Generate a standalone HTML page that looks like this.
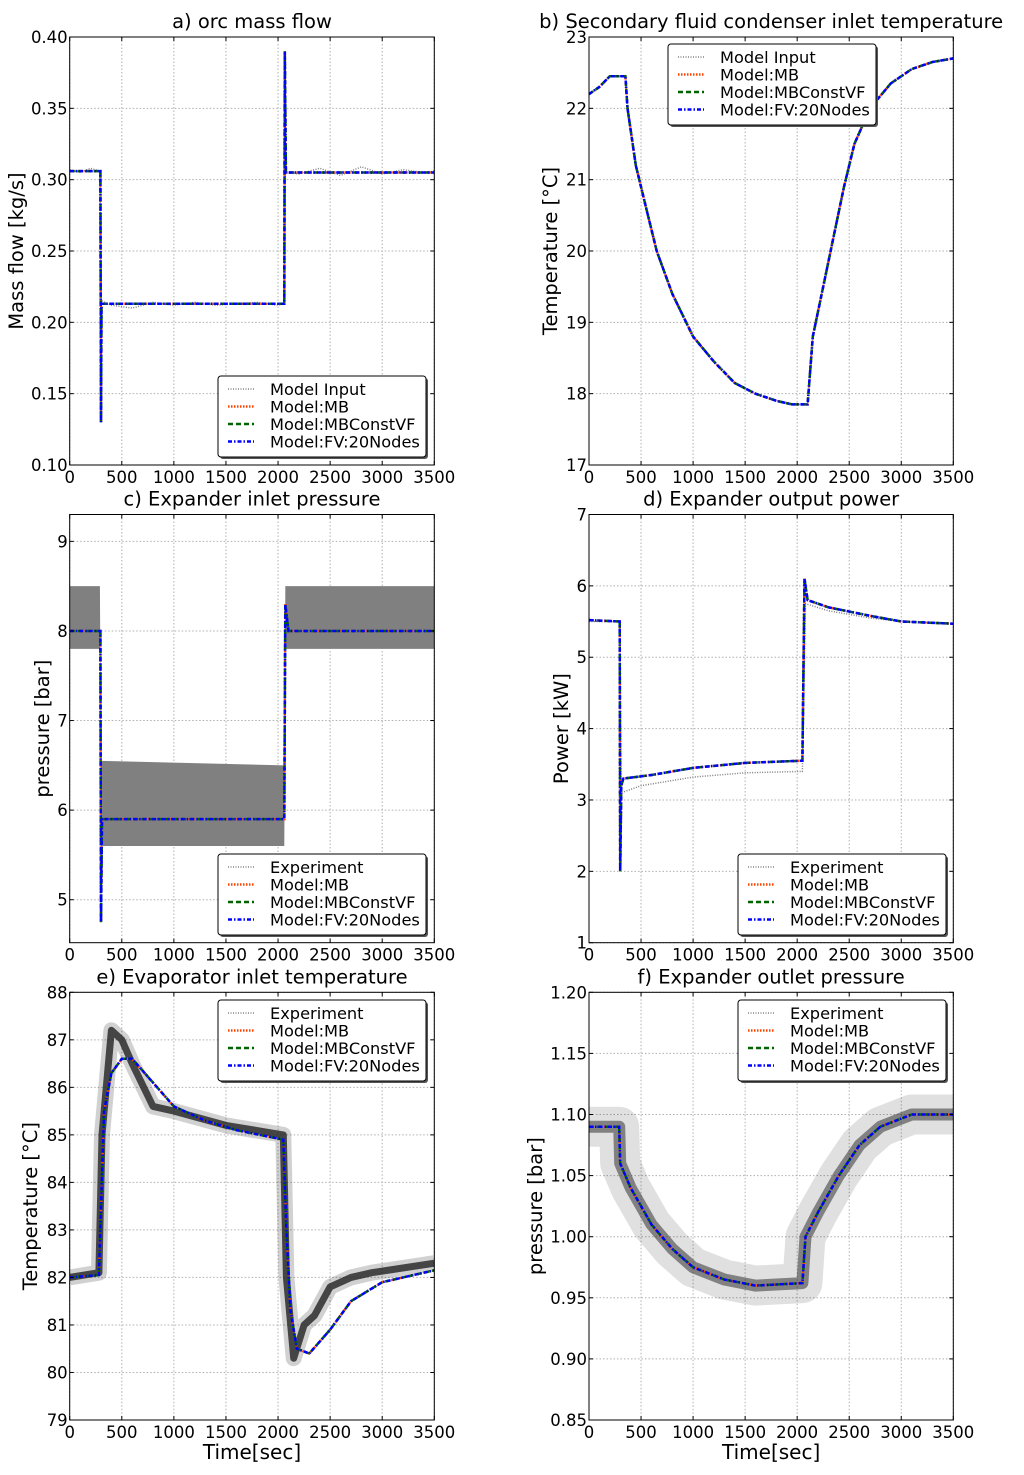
<!DOCTYPE html>
<html><head><meta charset="utf-8">
<style>
body{margin:0;background:#fff;width:1024px;height:1475px;overflow:hidden;font-family:"DejaVu Sans","Liberation Sans",sans-serif}
svg{display:block}
</style></head>
<body>
<svg id="fig" width="1024" height="1475" xmlns="http://www.w3.org/2000/svg" font-family="DejaVu Sans, Liberation Sans, sans-serif"></svg>
<script>
// ---- data ----
const xTicks=[0,500,1000,1500,2000,2500,3000,3500];
const aTicks=[0.10,0.15,0.20,0.25,0.30,0.35,0.40];
const aT=[0,295,300,305,2060,2065,2075,3500];
const aV=[0.306,0.306,0.13,0.213,0.213,0.39,0.305,0.305];
const aInT=[0,100,200,290,300,310,400,600,800,1000,1200,1400,1600,1800,2000,2060,2070,2200,2400,2600,2800,3000,3200,3400,3500];
const aInV=[0.307,0.305,0.308,0.306,0.213,0.215,0.212,0.210,0.214,0.212,0.214,0.212,0.213,0.214,0.212,0.213,0.305,0.304,0.308,0.303,0.309,0.304,0.307,0.305,0.306];
const bTicks=[17,18,19,20,21,22,23];
const bT=[0,100,200,350,370,450,550,650,800,1000,1200,1400,1600,1800,1950,2100,2150,2250,2350,2450,2550,2700,2900,3100,3300,3500];
const bV=[22.2,22.3,22.45,22.45,22.0,21.2,20.6,20.0,19.4,18.8,18.45,18.15,18.0,17.9,17.85,17.85,18.8,19.5,20.2,20.9,21.5,22.0,22.35,22.55,22.65,22.7];
const cTicks=[5,6,7,8,9];
const cT=[0,295,300,310,2060,2070,2100,3500];
const cV=[8,8,4.75,5.9,5.9,8.3,8.0,8.0];
const cExT=[0,290,300,2060,2070,3500];
const cExLo=[7.8,7.8,5.6,5.6,7.8,7.8];
const cExHi=[8.5,8.5,6.55,6.5,8.5,8.5];
const dTicks=[1,2,3,4,5,6,7];
const dT=[0,295,300,310,330,600,1000,1500,2050,2070,2100,2300,2700,3000,3500];
const dV=[5.52,5.5,2.0,3.2,3.3,3.35,3.45,3.52,3.55,6.1,5.8,5.7,5.58,5.5,5.47];
const dExT=[0,295,310,500,1000,1500,2050,2080,2300,2700,3000,3500];
const dExV=[5.5,5.5,3.1,3.2,3.32,3.38,3.4,5.75,5.65,5.55,5.5,5.47];
const eTicks=[79,80,81,82,83,84,85,86,87,88];
const eT=[0,280,300,330,400,500,600,800,1000,1300,1600,2050,2080,2120,2180,2300,2500,2700,3000,3500];
const eV=[82,82.05,83.5,85.5,86.3,86.6,86.6,86.1,85.6,85.3,85.1,84.9,83,81.3,80.5,80.4,80.9,81.5,81.9,82.15];
const eExT=[0,280,310,400,500,600,800,1000,1500,2050,2080,2150,2250,2350,2500,2700,2900,3500];
const eExV=[82,82.1,85,87.2,87,86.5,85.6,85.5,85.2,85,82,80.3,81,81.2,81.8,82.0,82.1,82.3];
const fTicks=[0.85,0.90,0.95,1.00,1.05,1.10,1.15,1.20];
const fT=[0,290,300,400,600,800,1000,1300,1600,2050,2080,2200,2400,2600,2800,3100,3500];
const fV=[1.09,1.09,1.06,1.04,1.01,0.99,0.975,0.965,0.96,0.962,1.0,1.02,1.05,1.075,1.09,1.1,1.1];

const NS='http://www.w3.org/2000/svg';
const svg=document.getElementById('fig');
function mk(tag,attrs,parent){const e=document.createElementNS(NS,tag);for(const k in attrs)e.setAttribute(k,attrs[k]);(parent||svg).appendChild(e);return e;}

function panel(o){
  const g=mk('g',{});
  
  
  const X=t=>o.x0+(t-0)/3500*(o.x1-o.x0);
  const Y=v=>o.y1-(v-o.ymin)/(o.ymax-o.ymin)*(o.y1-o.y0);
  xTicks.forEach(t=>{const l=mk('line',{x1:X(t),x2:X(t),y1:o.y0,y2:o.y1,stroke:'#b0b0b0','stroke-dasharray':'1.5,2','stroke-width':1},g);
    });
  o.yt.forEach(v=>{const l=mk('line',{x1:o.x0,x2:o.x1,y1:Y(v),y2:Y(v),stroke:'#b0b0b0','stroke-dasharray':'1.5,2','stroke-width':1},g);
    });
  const clipId='c'+o.name;
  const cp=mk('clipPath',{id:clipId},g);mk('rect',{x:o.x0,y:o.y0,width:o.x1-o.x0,height:o.y1-o.y0},cp);
  const pg=mk('g',{'clip-path':'url(#'+clipId+')'},g);
  const pts=(T,V)=>T.map((t,i)=>X(t).toFixed(1)+','+Y(V[i]).toFixed(1)).join(' ');
  if(o.band){const b=o.band;const p=b.t.map((t,i)=>X(t)+','+Y(b.hi[i])).concat(b.t.map((t,i)=>[X(t),Y(b.lo[i])]).reverse().map(a=>a[0]+','+a[1])).join(' ');
    const e=mk('polygon',{points:p,fill:'#808080'},pg);}
  if(o.blur){const b=o.blur;
    const e1=mk('polyline',{points:pts(b.t,b.v),fill:'none',stroke:b.c1,'stroke-width':b.w1,'stroke-linejoin':'round',opacity:b.o1},pg);
    
    const e2=mk('polyline',{points:pts(b.t,b.v),fill:'none',stroke:b.c2,'stroke-width':b.w2,'stroke-linejoin':'round',opacity:b.o2},pg);
    }
  if(o.exp){const e=mk('polyline',{points:pts(o.exp.t,o.exp.v),fill:'none',stroke:'#808080','stroke-width':1.5,'stroke-dasharray':'1,1.5'},pg);
    }
  const styles=[['#ff4500','1.5,1.5','model-mb-line',o.mb||o.v],['#006400','5,3','model-mbconstvf-line',o.vf||o.v],['#0000ff','4,2,1.5,2','model-fv-line',o.fv||o.v]];
  styles.forEach(s=>{const e=mk('polyline',{points:pts(o.t,s[3]),fill:'none',stroke:s[0],'stroke-width':2.5,'stroke-dasharray':s[1]},pg);
    });
  const fr=mk('rect',{x:o.x0,y:o.y0,width:o.x1-o.x0,height:o.y1-o.y0,fill:'none',stroke:'#000','stroke-width':1},g);
  
  xTicks.forEach(t=>{mk('line',{x1:X(t),x2:X(t),y1:o.y1,y2:o.y1-4,stroke:'#000'},g);mk('line',{x1:X(t),x2:X(t),y1:o.y0,y2:o.y0+4,stroke:'#000'},g);
    const tx=mk('text',{x:X(t),y:o.y1+18,'text-anchor':'middle','font-size':16.5},g);tx.textContent=t;
    });
  o.yt.forEach(v=>{mk('line',{x1:o.x0,x2:o.x0+4,y1:Y(v),y2:Y(v),stroke:'#000'},g);mk('line',{x1:o.x1,x2:o.x1-4,y1:Y(v),y2:Y(v),stroke:'#000'},g);
    const tx=mk('text',{x:o.x0-2,y:Y(v)+6,'text-anchor':'end','font-size':16.5},g);tx.textContent=o.fmt(v);
    });
  const ti=mk('text',{x:(o.x0+o.x1)/2,y:o.y0-9,'text-anchor':'middle','font-size':19.5},g);ti.textContent=o.title;
  
  const yl=mk('text',{x:0,y:0,'text-anchor':'middle','font-size':19.5,transform:`translate(${o.ylx},${(o.y0+o.y1)/2}) rotate(-90)`},g);yl.textContent=o.ylabel;
  
  if(o.xlabel){const xl=mk('text',{x:(o.x0+o.x1)/2,y:o.y1+39,'text-anchor':'middle','font-size':20},g);xl.textContent=o.xlabel;
    }
  const L=mk('g',{},g);
  mk('rect',{x:o.lx+2,y:o.ly+2,width:208,height:81,rx:3,fill:'#555'},L);
  mk('rect',{x:o.lx,y:o.ly,width:208,height:81,rx:3,fill:'#fff',stroke:'#000','stroke-width':1},L);
  const ent=[[o.first,'#808080','1,1.5',1.5],['Model:MB','#ff4500','1.5,1.5',2.5],['Model:MBConstVF','#006400','5,3',2.5],['Model:FV:20Nodes','#0000ff','4,2,1.5,2',2.5]];
  ent.forEach((en,i)=>{const yy=o.ly+13+i*17.5;
    const ln=mk('line',{x1:o.lx+10,x2:o.lx+36,y1:yy,y2:yy,stroke:en[1],'stroke-width':en[3],'stroke-dasharray':en[2]},L);
    
    const tx=mk('text',{x:o.lx+52,y:yy+6,'font-size':16.2},L);tx.textContent=en[0];
    });
}
const f2=v=>v.toFixed(2), f0=v=>String(v);
const L1={x0:69.7,x1:434.3}, R1={x0:589,x1:953.3};
const r1={y0:37,y1:465}, r2={y0:514.5,y1:942.7}, r3={y0:992.3,y1:1420};

panel({name:'panel-a-mass-flow',...L1,...r1,ymin:0.10,ymax:0.40,yt:aTicks,fmt:f2,t:aT,v:aV,exp:{t:aInT,v:aInV},
  title:'a) orc mass flow',ylabel:'Mass flow [kg/s]',ylx:23,lx:218,ly:376,first:'Model Input'});
panel({name:'panel-b-condenser-temp',...R1,...r1,ymin:17,ymax:23,yt:bTicks,fmt:f0,t:bT,v:bV,exp:{t:bT,v:bV},
  title:'b) Secondary fluid condenser inlet temperature',ylabel:'Temperature [\u00B0C]',ylx:557,lx:668,ly:44,first:'Model Input'});
panel({name:'panel-c-expander-inlet-pressure',...L1,...r2,ymin:4.52,ymax:9.3,yt:cTicks,fmt:f0,t:cT,v:cV,
  band:{t:cExT,lo:cExLo,hi:cExHi},
  title:'c) Expander inlet pressure',ylabel:'pressure [bar]',ylx:49,lx:218,ly:854,first:'Experiment'});
panel({name:'panel-d-expander-power',...R1,...r2,ymin:1,ymax:7,yt:dTicks,fmt:f0,t:dT,v:dV,exp:{t:dExT,v:dExV},
  title:'d) Expander output power',ylabel:'Power [kW]',ylx:568,lx:738,ly:854,first:'Experiment'});
panel({name:'panel-e-evaporator-temp',...L1,...r3,ymin:79,ymax:88,yt:eTicks,fmt:f0,t:eT,v:eV,
  blur:{t:eExT,v:eExV,c1:'#000',w1:16,o1:0.18,c2:'#222',w2:7,o2:0.8},
  title:'e) Evaporator inlet temperature',ylabel:'Temperature [\u00B0C]',ylx:37,xlabel:'Time[sec]',lx:218,ly:1000,first:'Experiment'});
panel({name:'panel-f-expander-outlet-pressure',...R1,...r3,ymin:0.85,ymax:1.20,yt:fTicks,fmt:f2,t:fT,v:fV,
  blur:{t:fT,v:fV,c1:'#000',w1:40,o1:0.12,c2:'#333',w2:12,o2:0.55},
  title:'f) Expander outlet pressure',ylabel:'pressure [bar]',ylx:542,xlabel:'Time[sec]',lx:738,ly:1000,first:'Experiment'});
</script>
</body></html>
